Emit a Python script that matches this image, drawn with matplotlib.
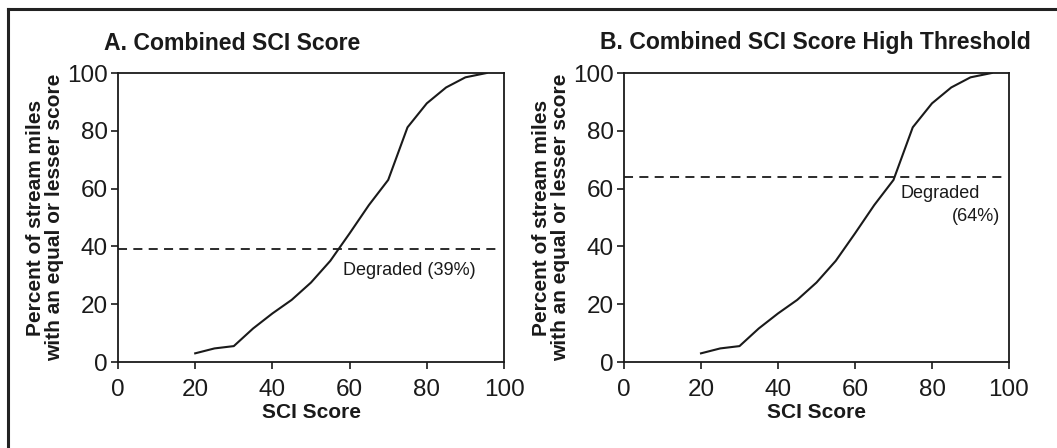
import matplotlib
matplotlib.use('Agg')
import matplotlib.pyplot as plt
from matplotlib.lines import Line2D

plt.rcParams['font.family'] = ['Liberation Sans', 'DejaVu Sans']

# cumulative distribution of SCI scores (same curve in both panels)
sci_score = [20, 25, 30, 35, 40, 45, 50, 55, 60, 65, 70, 75, 80, 85, 90, 95.5]
pct_miles = [3.0, 4.7, 5.5, 11.6, 16.8, 21.5, 27.5, 35.0, 44.5, 54.3, 63.0, 81.2, 89.5, 95.0, 98.5, 100]

titles = ['A. Combined SCI Score', 'B. Combined SCI Score High Threshold']
thresholds = [39, 64]
ticks = [0, 20, 40, 60, 80, 100]

TXT = '#1a1a1a'

fig = plt.figure(figsize=(10.57, 4.48), dpi=100)
W, H = 1057, 448

def px_axes(x0, y0, x1, y1):
    # pixel box -> figure fraction
    return fig.add_axes([x0 / W, 1 - y1 / H, (x1 - x0) / W, (y1 - y0) / H])

axA = px_axes(118, 73, 504, 362)
axB = px_axes(624, 73, 1009, 362)

for ax, title, thr in zip([axA, axB], titles, thresholds):
    ax.plot(sci_score, pct_miles, color=TXT, lw=1.5, solid_joinstyle='round')
    ax.plot([0, 99], [thr, thr], color=TXT, lw=1.3, ls=(0, (5, 3.5)))
    ax.set_xlim(0, 100)
    ax.set_ylim(0, 100)
    ax.set_xticks(ticks)
    ax.set_yticks(ticks)
    ax.tick_params(direction='out', length=5, width=1.2, labelsize=17.5,
                   colors=TXT)
    ax.tick_params(axis='x', pad=7.5)
    ax.tick_params(axis='y', pad=2.5)
    for s in ax.spines.values():
        s.set_linewidth(1.3)
        s.set_color(TXT)
    ax.set_xlabel('SCI Score', fontsize=15, fontweight='bold', color=TXT, labelpad=1)
    ax.set_ylabel('Percent of stream miles\nwith an equal or lesser score',
                  fontsize=15, fontweight='bold', color=TXT, labelpad=2,
                  linespacing=1.0)

fig.text(104 / W, 1 - 43 / H, titles[0], fontsize=16.6, fontweight='bold',
         color=TXT, va='center', ha='left')
fig.text(600 / W, 1 - 43 / H, titles[1], fontsize=16.6, fontweight='bold',
         color=TXT, va='center', ha='left')

axA.text(75.5, 31.5, 'Degraded (39%)', fontsize=13, color=TXT, ha='center', va='center')
axB.text(82, 58.2, 'Degraded', fontsize=13, color=TXT, ha='center', va='center')
axB.text(97.7, 50.3, '(64%)', fontsize=13, color=TXT, ha='right', va='center')

# outer frame (top and left edges visible in the crop)
fig.add_artist(Line2D([8 / W, 8 / W], [0, 1 - 9 / H], transform=fig.transFigure,
                      color='#222222', lw=2.2))
fig.add_artist(Line2D([8 / W, 1], [1 - 9 / H, 1 - 9 / H], transform=fig.transFigure,
                      color='#222222', lw=2.2))

fig.savefig('out.png', dpi=100)
